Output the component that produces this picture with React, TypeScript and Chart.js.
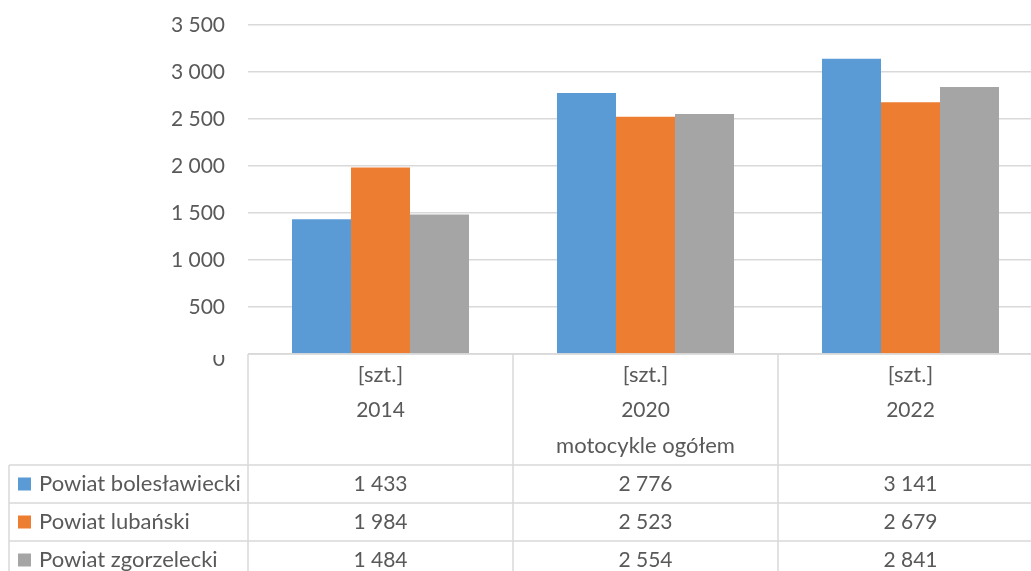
import React, { useEffect, useRef } from 'react';
import { Chart, registerables } from 'chart.js';

Chart.register(...registerables);

const categories = ['2014', '2020', '2022'];
const unitLabel = '[szt.]';
const groupLabel = 'motocykle ogółem';
const seriesNames = ['Powiat bolesławiecki', 'Powiat lubański', 'Powiat zgorzelecki'];
const boleslawiecki = [1433, 2776, 3141];
const lubanski = [1984, 2523, 2679];
const zgorzelecki = [1484, 2554, 2841];
const seriesColors = ['#5B9BD5', '#ED7D31', '#A5A5A5'];
const yMax = 3500;
const yStep = 500;

const FONT = 'Lato, "Open Sans", sans-serif';
const TEXT = '#595959';
const GRID = '#D9D9D9';

const fmt = (v: number) => String(v).replace(/\B(?=(\d{3})+(?!\d))/g, ' ');

const tablePlugin = {
  id: 'dataTable',
  afterDraw(chart: any) {
    const { ctx } = chart;
    const x = chart.scales.x;
    const y = chart.scales.y;
    const y0 = y.getPixelForValue(0);
    const n = categories.length;
    const catW = (x.right - x.left) / n;
    const headerBottom = y0 + 111;
    const rowH = 38;
    const tableLeft = 9;
    const bottom = chart.height + 20;

    ctx.save();
    ctx.strokeStyle = GRID;
    ctx.lineWidth = 1.5;
    ctx.beginPath();
    ctx.moveTo(x.left, y0);
    ctx.lineTo(x.right + 5, y0);
    for (let r = 0; r < seriesNames.length; r++) {
      const yy = headerBottom + r * rowH;
      ctx.moveTo(tableLeft, yy);
      ctx.lineTo(x.right + 5, yy);
    }
    ctx.moveTo(x.left, y0);
    ctx.lineTo(x.left, bottom);
    for (let i = 1; i <= n; i++) {
      const xx = x.left + i * catW;
      ctx.moveTo(xx, y0);
      ctx.lineTo(xx, bottom);
    }
    ctx.moveTo(tableLeft, headerBottom);
    ctx.lineTo(tableLeft, bottom);
    ctx.stroke();

    ctx.fillStyle = TEXT;
    ctx.textBaseline = 'middle';
    ctx.textAlign = 'center';
    categories.forEach((c, i) => {
      const cx = x.getPixelForValue(i);
      ctx.font = `22px ${FONT}`;
      ctx.fillText(unitLabel, cx, y0 + 21);
      ctx.font = `21px ${FONT}`;
      ctx.fillText(c, cx, y0 + 56);
    });
    ctx.font = `22px ${FONT}`;
    ctx.fillText(groupLabel, (x.left + x.right) / 2, y0 + 92);

    const seriesData = [boleslawiecki, lubanski, zgorzelecki];
    seriesNames.forEach((name, r) => {
      const cy = headerBottom + r * rowH + rowH / 2;
      ctx.fillStyle = seriesColors[r];
      ctx.fillRect(tableLeft + 9, cy - 6.5, 13, 13);
      ctx.fillStyle = TEXT;
      ctx.textAlign = 'left';
      ctx.font = `22px ${FONT}`;
      ctx.fillText(name, tableLeft + 30, cy);
      ctx.textAlign = 'center';
      ctx.font = `21px ${FONT}`;
      seriesData[r].forEach((v, i) => {
        ctx.fillText(fmt(v), x.getPixelForValue(i), cy);
      });
    });

    ctx.save();
    ctx.beginPath();
    ctx.rect(0, y0 + 1, x.left - 2, 30);
    ctx.clip();
    ctx.textAlign = 'right';
    ctx.font = `21px ${FONT}`;
    ctx.fillText('0', x.left - 23, y0 + 5);
    ctx.restore();

    ctx.restore();
  },
};

export default function App() {
  const ref = useRef<HTMLCanvasElement>(null);
  useEffect(() => {
    document.body.style.margin = '0';
    let chart: Chart | null = null;
    let cancelled = false;
    const make = () => {
      if (cancelled || !ref.current) return;
      chart = new Chart(ref.current, {
        type: 'bar',
        data: {
          labels: categories,
          datasets: [
            { label: seriesNames[0], data: boleslawiecki, backgroundColor: seriesColors[0] },
            { label: seriesNames[1], data: lubanski, backgroundColor: seriesColors[1] },
            { label: seriesNames[2], data: zgorzelecki, backgroundColor: seriesColors[2] },
          ],
        },
        options: {
          responsive: false,
          animation: false,
          datasets: { bar: { barPercentage: 1, categoryPercentage: 0.668 } },
          layout: { padding: { top: 0, bottom: 217, right: 1, left: 0 } },
          plugins: { legend: { display: false }, tooltip: { enabled: false } },
          scales: {
            x: { display: false, grid: { display: false } },
            y: {
              min: 0,
              max: yMax,
              border: { display: false },
              grid: { color: GRID, lineWidth: 1.5, drawTicks: false },
              ticks: {
                stepSize: yStep,
                color: TEXT,
                padding: 23,
                font: { family: FONT, size: 21 },
                callback: (v: any) => (Number(v) === 0 ? '' : fmt(Number(v))),
              },
              afterFit: (s: any) => {
                s.width = 248;
                s.paddingTop = 25;
                s.paddingBottom = 0;
              },
            },
          },
        },
        plugins: [tablePlugin],
      });
    };
    (document as any).fonts.load(`21px Lato`).then(make, make);
    return () => {
      cancelled = true;
      if (chart) chart.destroy();
    };
  }, []);
  return (
    <div style={{ width: 1031, height: 571, overflow: 'hidden', background: '#fff' }}>
      <canvas ref={ref} width={1044} height={571} style={{ width: 1044, height: 571, display: 'block' }} />
    </div>
  );
}
